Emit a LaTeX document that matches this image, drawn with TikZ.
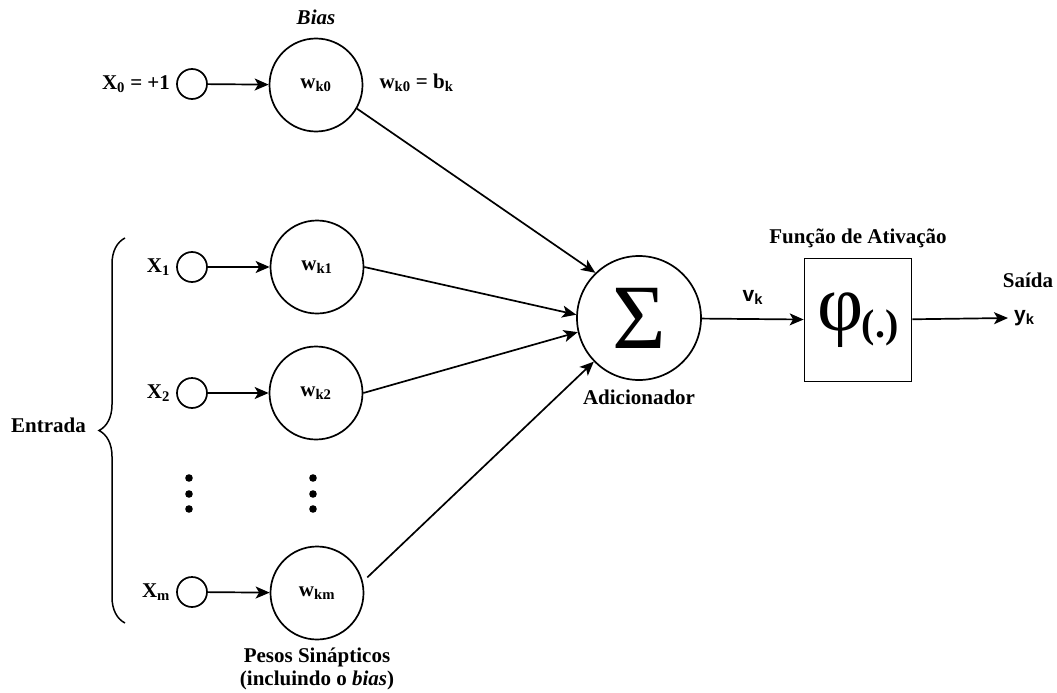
\documentclass[tikz,border=0pt]{standalone}
\usepackage{fontspec}
\setmainfont{Liberation Serif}
\setsansfont{Liberation Sans}
\usetikzlibrary{arrows.meta,positioning,decorations.pathreplacing}
\newcommand{\lbl}[2]{#1\textsubscript{#2}}

\tikzset{
  every node/.style={font=\fontsize{21}{23}\selectfont\bfseries},
  inp/.style={draw,circle,line width=1.7pt,minimum size=30pt,inner sep=0pt},
  peso/.style={draw,circle,line width=1.7pt,minimum size=93pt,inner sep=0pt},
  seta/.style={line width=1.7pt,-{Stealth[length=14pt,width=12pt,inset=3.5pt]}}
}

\begin{document}
\begin{tikzpicture}[x=1pt,y=-1pt]
   \useasboundingbox (0,0) rectangle (1057,693);
   % entradas
   \node[inp] (in0) at (192,84) {};
   \node[inp] (in1) at (192,267) {};
   \node[inp] (in2) at (192,393) {};
   \node[inp] (inm) at (192,592) {};
   \node[left=4pt of in0, inner sep=2pt] (x0) {\lbl{X}{0} = +1};
   \node[left=4pt of in1, inner sep=2pt] (x1) {\lbl{X}{1}};
   \node[left=4pt of in2, inner sep=2pt] (x2) {\lbl{X}{2}};
   \node[left=4pt of inm, inner sep=2pt] (xm) {\lbl{X}{m}};
   % pesos
   \node[peso] (w0) at (316,85) {\lbl{w}{k0}};
   \node[peso] (w1) at (317,267) {\lbl{w}{k1}};
   \node[peso] (w2) at (316,393) {\lbl{w}{k2}};
   \node[peso] (wm) at (317,593) {\lbl{w}{km}};
   \node[above=11pt of w0, inner sep=2pt] (bias) {\itshape Bias};
   \node[right=14pt of w0, inner sep=2pt, yshift=2pt] (wb) {\lbl{w}{k0} = \lbl{b}{k}};
   \node[below=5pt of wm, align=center, inner sep=2pt] (pesos) {Pesos Sinápticos\\(incluindo o \textit{bias})};
   % pontos
   \fill (189,478) circle(3.8);
   \fill (189,494) circle(3.8);
   \fill (189,509) circle(3.8);
   \fill (313,478) circle(3.8);
   \fill (313,494) circle(3.8);
   \fill (313,509) circle(3.8);
   % chave
   \draw[line width=1.5pt,decorate,decoration={brace,amplitude=26pt}] (125,623) -- (125,238);
   \node[anchor=east, inner sep=0pt] (entrada) at (86,425) {Entrada};
   % somador e ativacao
   \node[draw,circle,line width=1.7pt,minimum size=124pt,inner sep=0pt] (sum) at (639,318)
      {\fontsize{92}{92}\selectfont\mdseries Σ};
   \node[below=7pt of sum, inner sep=2pt] (adic) {Adicionador};
   \node[draw,line width=1.7pt,minimum width=107pt,minimum height=123pt,inner sep=0pt] (act) at (858,320)
      {\fontsize{80}{80}\selectfont\mdseries φ\kern-2pt\raisebox{-7pt}{\fontsize{40}{40}\selectfont\bfseries(.)}};
   \node[above=8pt of act, inner sep=2pt] (func) {Função de Ativação};
   \coordinate (out) at (1008,318);
   \node[anchor=west, inner sep=2pt, font=\fontsize{21}{23}\selectfont\sffamily\bfseries] (yk) at (1012,318) {\lbl{y}{k}};
   \node[inner sep=0pt] (saida) at (1028,280) {Saída};
   % conexoes
   \draw[seta] (in0) -- (w0);
   \draw[seta] (in1) -- (w1);
   \draw[seta] (in2) -- (w2);
   \draw[seta] (inm) -- (wm);
   \draw[seta] (w0.330) -- (sum.134);
   \draw[seta] (w1.east) -- (sum.177);
   \draw[seta] (w2.east) -- (sum.193);
   \draw[seta,shorten <=6pt] (wm.14) -- (sum.224);
   \draw[seta] (sum) -- node[above=10pt, font=\fontsize{21}{23}\selectfont\sffamily\bfseries] (vk) {\lbl{v}{k}} (act);
   \draw[seta] (act) -- (out);
\end{tikzpicture}
\end{document}
